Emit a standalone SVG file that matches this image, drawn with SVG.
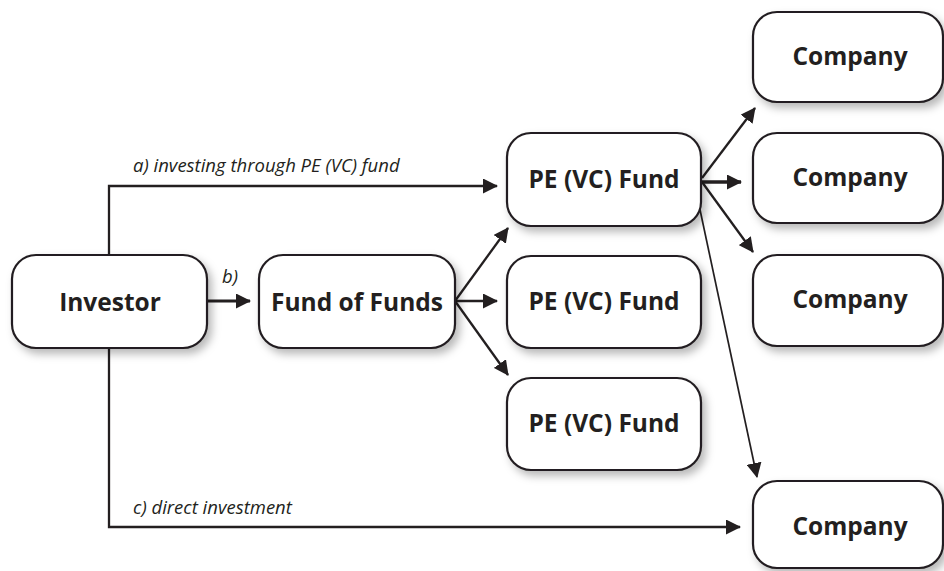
<svg xmlns="http://www.w3.org/2000/svg" width="944" height="571" viewBox="0 0 944 571">
<defs>
<filter id="sh" x="-20%" y="-20%" width="150%" height="160%">
<feDropShadow dx="4" dy="5" stdDeviation="4" flood-color="#000" flood-opacity="0.28"/>
</filter>
<marker id="ah" markerUnits="userSpaceOnUse" markerWidth="15" markerHeight="15" refX="14" refY="7.5" orient="auto">
<path d="M0,0 L15,7.5 L0,15 z" fill="#231f20"/>
</marker>
<style>
.box{fill:#fff;stroke:#231f20;stroke-width:2.2;filter:url(#sh)}
.lbl{font-family:"Open Sans","Liberation Sans",sans-serif;font-weight:bold;font-size:24.5px;fill:#231f20;text-anchor:middle}
.it{font-family:"Open Sans","Liberation Sans",sans-serif;font-style:italic;font-size:18.5px;fill:#231f20}
.c{fill:none;stroke:#231f20;stroke-width:2.3}
</style>
</defs>
<rect width="944" height="571" fill="#fff"/>
<g id="connectors">
<path class="c" d="M109,255 V186 H497" marker-end="url(#ah)"/>
<path class="c" d="M207,301 H250" style="stroke-width:3" marker-end="url(#ah)"/>
<path class="c" d="M455,301 L508,228" marker-end="url(#ah)"/>
<path class="c" d="M455,301 H497" marker-end="url(#ah)"/>
<path class="c" d="M455,301 L508,375" marker-end="url(#ah)"/>
<path class="c" d="M702,178 L755,108" marker-end="url(#ah)"/>
<path class="c" d="M702,182 H741" style="stroke-width:3.5" marker-end="url(#ah)"/>
<path class="c" d="M702,182 L753,252" marker-end="url(#ah)"/>
<path class="c" d="M699,205 L757,477" style="stroke-width:1.7" marker-end="url(#ah)"/>
<path class="c" d="M109,348 V527 H740" marker-end="url(#ah)"/>
<text class="it" x="133" y="172">a) investing through PE (VC) fund</text>
<text class="it" x="222" y="283">b)</text>
<text class="it" x="133" y="514">c) direct investment</text>
</g>
<g id="investor"><rect class="box" x="12" y="255" width="195" height="93" rx="24"/><text class="lbl" x="110" y="311">Investor</text></g>
<g id="fof"><rect class="box" x="259" y="255" width="196" height="93" rx="24"/><text class="lbl" x="357" y="311">Fund of Funds</text></g>
<g id="pe1"><rect class="box" x="507" y="133" width="194" height="93" rx="24"/><text class="lbl" x="604" y="188">PE (VC) Fund</text></g>
<g id="pe2"><rect class="box" x="507" y="256" width="194" height="92" rx="24"/><text class="lbl" x="604" y="310">PE (VC) Fund</text></g>
<g id="pe3"><rect class="box" x="507" y="378" width="194" height="92" rx="24"/><text class="lbl" x="604" y="432">PE (VC) Fund</text></g>
<g id="co1"><rect class="box" x="753" y="12" width="190" height="90" rx="24"/><text class="lbl" x="850" y="65">Company</text></g>
<g id="co2"><rect class="box" x="753" y="133" width="190" height="90" rx="24"/><text class="lbl" x="850" y="186">Company</text></g>
<g id="co3"><rect class="box" x="753" y="255" width="190" height="91" rx="24"/><text class="lbl" x="850" y="308">Company</text></g>
<g id="co4"><rect class="box" x="753" y="481" width="190" height="87" rx="24"/><text class="lbl" x="850" y="535">Company</text></g>
</svg>
